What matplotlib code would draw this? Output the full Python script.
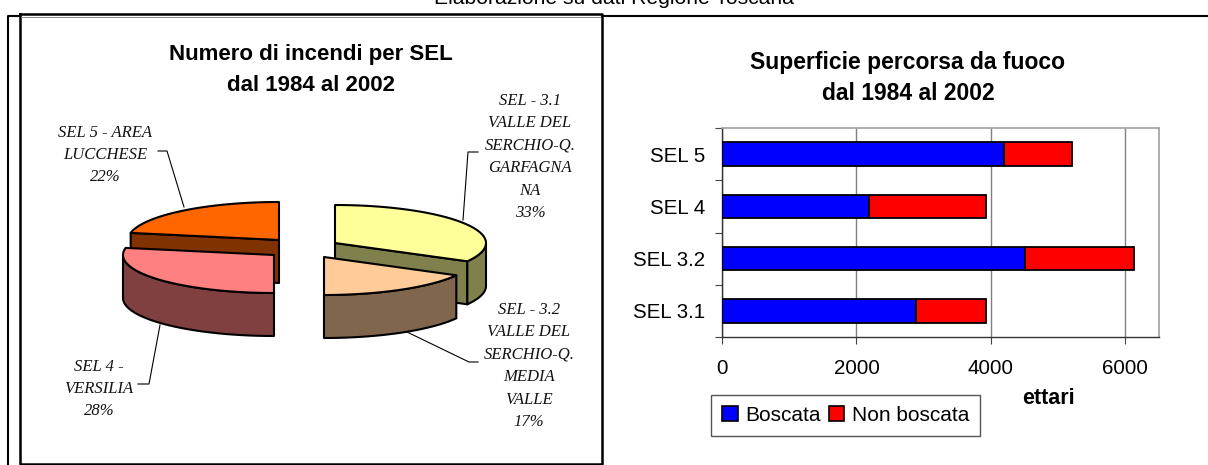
import numpy as np
import matplotlib
matplotlib.use('Agg')
import matplotlib.pyplot as plt
from matplotlib.patches import Polygon, Patch

plt.rcParams['font.family'] = ['Liberation Sans', 'DejaVu Sans']

W, H = 1208, 465

# pie data (share of fires, clockwise from 12 o'clock)
pie_labels = ['SEL - 3.1\nVALLE DEL\nSERCHIO-Q.\nGARFAGNA\nNA\n33%',
              'SEL - 3.2\nVALLE DEL\nSERCHIO-Q.\nMEDIA\nVALLE\n17%',
              'SEL 4 -\nVERSILIA\n28%',
              'SEL 5 - AREA\nLUCCHESE\n22%']
pie_values = [33, 17, 28, 22]

# bar data
sel_names = ['SEL 3.1', 'SEL 3.2', 'SEL 4', 'SEL 5']
boscata = [2890, 4500, 2180, 4200]
non_boscata = [1040, 1630, 1750, 1010]

# pie layout, in pixels
face_colors = ['#FFFF99', '#FFCC99', '#FF8080', '#FF6600']
wall_colors = ['#80804C', '#80664C', '#804040', '#803300']
centers = [(335, 243), (324, 257), (274, 255), (279, 240)]
label_pos = [(530, 157), (529, 366), (99, 389), (105, 155)]
leaders = [[(478, 152), (468, 152), (463, 220)],
           [(478, 362), (469, 362), (407, 332)],
           [(138, 384), (149, 384), (160, 325)],
           [(158, 151), (167, 151), (184, 207)]]
A, B, DEPTH = 151, 38, 43

fig = plt.figure(figsize=(W / 100, H / 100), dpi=100)
bg = fig.add_axes([0, 0, 1, 1])
bg.set_xlim(0, W)
bg.set_ylim(H, 0)
bg.axis('off')


def rim(cx, cy, t0, t1, dy=0):
    t = np.radians(np.linspace(t0, t1, 60))
    return np.column_stack([cx + A * np.sin(t), cy - B * np.cos(t) + dy])


def draw_slice(i, t0, t1):
    cx, cy = centers[i]
    edge = dict(edgecolor='black', linewidth=1.5, joinstyle='round')
    # radial wall on the clockwise side, when it faces the viewer
    if t1 < 180 or t1 == 360:
        end = rim(cx, cy, t0 if t1 == 360 else t1, t0 if t1 == 360 else t1)[0]
        wall = [(cx, cy), end, end + [0, DEPTH], (cx, cy + DEPTH)]
        bg.add_patch(Polygon(wall, facecolor=wall_colors[i], **edge))
    # curved outer wall, only its front part shows
    a0, a1 = max(t0, 90), min(t1, 270)
    if a1 > a0:
        top = rim(cx, cy, a0, a1)
        low = rim(cx, cy, a1, a0, DEPTH)
        bg.add_patch(Polygon(np.vstack([top, low]), facecolor=wall_colors[i], **edge))
    # top face
    face = np.vstack([[(cx, cy)], rim(cx, cy, t0, t1)])
    bg.add_patch(Polygon(face, facecolor=face_colors[i], **edge))


# slice angles come from the values
angles = np.concatenate([[0], np.cumsum(pie_values)]) * 360 / sum(pie_values)
for i in [3, 0, 2, 1]:
    draw_slice(i, angles[i], angles[i + 1])

for (x, y), txt in zip(label_pos, pie_labels):
    bg.text(x, y, txt, family='Liberation Serif', style='italic', fontsize=12,
            ha='center', va='center', linespacing=1.54, color='#111111')
for pts in leaders:
    xs, ys = zip(*pts)
    bg.plot(xs, ys, color='black', lw=0.8)

# frames around the two panels
bg.plot([8, 8, 20], [465, 16, 16], color='black', lw=1.5)
bg.plot([20, 602, 602, 20, 20], [14, 14, 464, 464, 14], color='black', lw=1.8)
bg.plot([602, W], [16, 16], color='black', lw=1.5)
bg.plot([21, 600], [17, 17], color='#777777', lw=0.6)

bg.text(614, 4, 'Elaborazione su dati Regione Toscana', fontsize=15.2, ha='center', va='baseline')
bg.text(311, 70, 'Numero di incendi per SEL\ndal 1984 al 2002', fontsize=16, fontweight='bold',
        ha='center', va='center', linespacing=1.6)
bg.text(908, 78, 'Superficie percorsa da fuoco\ndal 1984 al 2002', fontsize=16.5, fontweight='bold',
        ha='center', va='center', linespacing=1.42)

# stacked bars
ax = fig.add_axes([722 / W, 1 - 337 / H, 437 / W, 209 / H])
y = np.arange(len(sel_names))
ax.barh(y, boscata, height=0.45, color='#0000FF', edgecolor='black', linewidth=1.3,
        label='Boscata', zorder=3)
ax.barh(y, non_boscata, left=boscata, height=0.45, color='#FF0000', edgecolor='black',
        linewidth=1.3, label='Non boscata', zorder=3)
ax.set_xlim(0, 6500)
ax.set_ylim(-0.5, 3.5)
ax.set_xticks([0, 2000, 4000, 6000])
ax.set_yticks(y)
ax.set_yticklabels(sel_names)
ax.set_yticks(np.arange(-0.5, 4), minor=True)
ax.tick_params(axis='y', which='major', length=0, pad=12, labelsize=14.8)
ax.tick_params(axis='y', which='minor', length=5, width=0.8, color='#444444')
ax.tick_params(axis='x', length=5, width=0.8, color='#444444', pad=11, labelsize=14.8)
ax.grid(axis='x', color='#808080', lw=1, zorder=0)
for side in ['top', 'right']:
    ax.spines[side].set_color('#A0A0A0')
    ax.spines[side].set_linewidth(1.2)
for side in ['left', 'bottom']:
    ax.spines[side].set_color('#333333')
    ax.spines[side].set_linewidth(1)

bg.text(1048, 398, 'ettari', fontsize=15.5, fontweight='bold', ha='center', va='center')

handles = [Patch(facecolor='#0000FF', edgecolor='black', linewidth=1.2),
           Patch(facecolor='#FF0000', edgecolor='black', linewidth=1.2)]
fig.legend(handles, ['Boscata', 'Non boscata'], loc='center', bbox_to_anchor=(845.5 / W, 1 - 415.5 / H),
           ncol=2, fontsize=15, fancybox=False, framealpha=1, edgecolor='#555555',
           handlelength=0.75, handleheight=0.75, handletextpad=0.35, columnspacing=0.4,
           borderpad=0.55, borderaxespad=0)

fig.savefig('out.png', dpi=100)
